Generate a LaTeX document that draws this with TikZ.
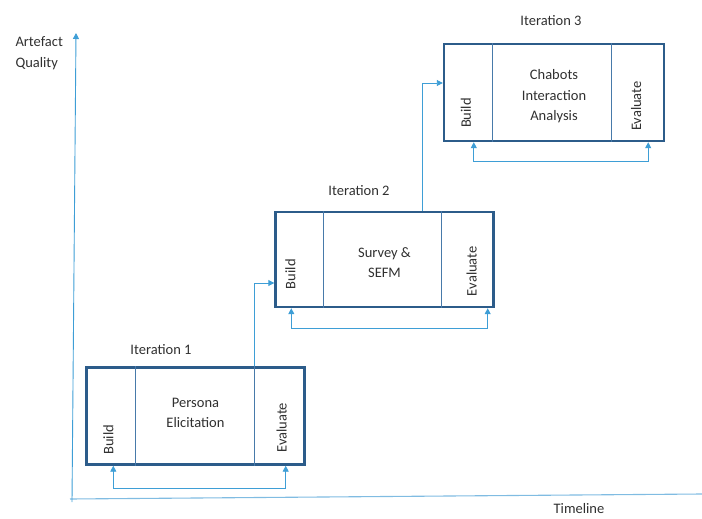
\documentclass[tikz,border=0pt]{standalone}
\usepackage{fontspec}
\setmainfont{Carlito}
\usetikzlibrary{arrows.meta}
\usetikzlibrary{calc}
\definecolor{boxblue}{RGB}{44,92,138}
\definecolor{lineblue}{RGB}{72,122,170}
\definecolor{flowblue}{RGB}{62,158,214}
\definecolor{axisblue}{RGB}{128,188,226}
\definecolor{txt}{RGB}{48,48,48}

\begin{document}
\begin{tikzpicture}[x=1pt, y=-1pt,
        font=\fontsize{14.5}{20.5}\selectfont, text=txt,
        >={Triangle[length=6pt,width=6pt]},
        iteration/.style={draw=boxblue, line width=2.4pt, minimum width=218pt, minimum height=97pt},
        divider/.style={draw=lineblue, line width=0.9pt},
        flow/.style={draw=flowblue, line width=0.9pt},
        phase/.style={rotate=90, anchor=west, inner sep=0pt}]
    \useasboundingbox (0,0) rectangle (702,519);

    \draw[draw=axisblue, line width=1.1pt] (70,499) -- (702,494);
    \draw[flow, ->] (72,502) -- (76,33);
    \node[anchor=west, align=left] (quality) at (12,53) {Artefact\\Quality};
    \node (timeline) at (579,509) {Timeline};

    \node[iteration] (b1) at (195.5,416) {};
    \node (t1) at (161,350) {Iteration 1};
    \draw[divider] ($(b1.north west)+(50,0)$) -- ($(b1.south west)+(50,0)$);
    \draw[divider] ($(b1.north east)+(-51,0)$) -- ($(b1.south east)+(-51,0)$);
    \node[phase] (build1) at ($(b1.south west)+(23,-11)$) {Build};
    \node[phase] (eval1) at ($(b1.south east)+(-24,-13)$) {Evaluate};
    \node[align=center] (m1) at ($(b1.center)+(0,-3)$) {Persona\\Elicitation};
    \draw[flow, <->] ($(b1.south west)+(28,0)$) -- ++(0,23) -| ($(b1.south east)+(-20,0)$);

    \node[iteration, minimum height=95pt] (b2) at (384.5,259.5) {};
    \node (t2) at (359,191) {Iteration 2};
    \draw[divider] ($(b2.north west)+(49,0)$) -- ($(b2.south west)+(49,0)$);
    \draw[divider] ($(b2.north east)+(-53,0)$) -- ($(b2.south east)+(-53,0)$);
    \node[phase] (build2) at ($(b2.south west)+(16,-19)$) {Build};
    \node[phase] (eval2) at ($(b2.south east)+(-23,-12)$) {Evaluate};
    \node[align=center] (m2) at ($(b2.center)+(0,3)$) {Survey \&\\SEFM};
    \draw[flow, <->] ($(b2.south west)+(17,0)$) -- ++(0,20) -| ($(b2.south east)+(-7,0)$);

    \node[iteration, minimum width=220pt] (b3) at (554,92.5) {};
    \node (t3) at (551,21) {Iteration 3};
    \draw[divider] ($(b3.north west)+(50,0)$) -- ($(b3.south west)+(50,0)$);
    \draw[divider] ($(b3.north east)+(-54,0)$) -- ($(b3.south east)+(-54,0)$);
    \node[phase] (build3) at ($(b3.south west)+(23,-14)$) {Build};
    \node[phase] (eval3) at ($(b3.south east)+(-29,-11)$) {Evaluate};
    \node[align=center] (m3) at ($(b3.center)+(0,4)$) {Chabots\\Interaction\\Analysis};
    \draw[flow, <->] ($(b3.south west)+(31,0)$) -- ++(0,19) -| ($(b3.south east)+(-17,0)$);

    \draw[flow, ->] ($(b1.north west)+(169,0)$) |- ($(b2.west)+(0,23.5)$);
    \draw[flow, ->] ($(b2.north west)+(148,0)$) |- ($(b3.west)+(0,-9.5)$);
\end{tikzpicture}
\end{document}
